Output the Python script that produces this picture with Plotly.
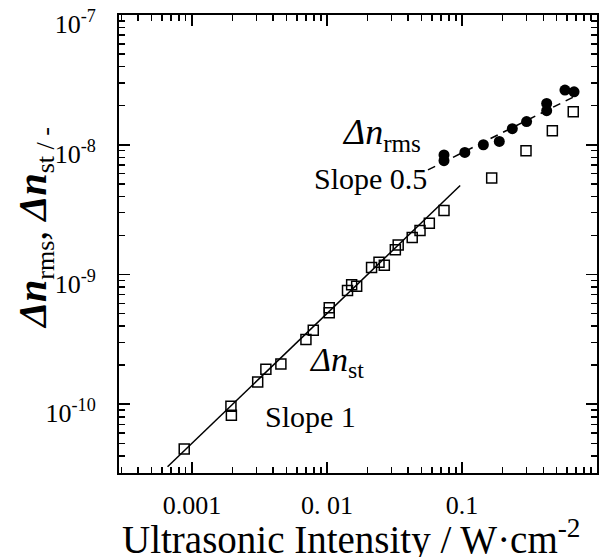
import math
import plotly.graph_objects as go

# ---- data ----
st_x = [8.77e-4, 1.945e-3, 1.96e-3, 3.07e-3, 3.53e-3, 4.56e-3, 6.99e-3, 7.92e-3,
        0.0104, 0.0104, 0.0142, 0.01524, 0.0166, 0.0214, 0.0243, 0.0266,
        0.0321, 0.0337, 0.0428, 0.0489, 0.0573, 0.0736, 0.166, 0.298, 0.467, 0.667]
st_y = [4.51e-11, 9.66e-11, 8.22e-11, 1.485e-10, 1.86e-10, 2.04e-10, 3.16e-10, 3.71e-10,
        5.07e-10, 5.55e-10, 7.53e-10, 8.34e-10, 8.13e-10, 1.13e-9, 1.245e-9, 1.18e-9,
        1.55e-9, 1.69e-9, 1.93e-9, 2.18e-9, 2.48e-9, 3.11e-9, 5.55e-9, 9.0e-9, 1.28e-8, 1.795e-8]

rms_x = [0.0736, 0.0736, 0.105, 0.144, 0.189, 0.236, 0.301, 0.424, 0.424, 0.579, 0.676]
rms_y = [8.34e-9, 7.53e-9, 8.73e-9, 1.0e-8, 1.06e-8, 1.33e-8, 1.51e-8, 2.08e-8, 1.83e-8, 2.64e-8, 2.56e-8]

slope1_x = [6.6e-4, 0.097]
slope1_y = [3.3e-11, 4.85e-9]
slope05_x = [0.056, 0.69]
slope05_y = [6.4e-9, 2.37e-8]

x_tickvals = [0.001, 0.01, 0.1, 1]
x_ticktext = ["0.001", "0. 01", "0.1", "1"]
y_tickvals = [1e-10, 1e-9, 1e-8, 1e-7]
y_ticktext = ["10<sup>-10</sup>", "10<sup>-9</sup>", "10<sup>-8</sup>", "10<sup>-7</sup>"]

minor_x = [m * 10.0 ** e for e in range(-4, 0) for m in range(2, 10)]
minor_y = [m * 10.0 ** e for e in range(-11, -7) for m in range(2, 10)]

FONT = "Liberation Serif"

fig = go.Figure()
fig.add_trace(go.Scatter(x=slope1_x, y=slope1_y, mode="lines",
                         line=dict(color="black", width=1.5), showlegend=False))
fig.add_trace(go.Scatter(x=slope05_x, y=slope05_y, mode="lines",
                         line=dict(color="black", width=1.5, dash="8px,6px"), showlegend=False))
fig.add_trace(go.Scatter(x=st_x, y=st_y, mode="markers",
                         marker=dict(symbol="square-open", size=10, color="black",
                                     line=dict(width=1.5, color="black")),
                         showlegend=False))
fig.add_trace(go.Scatter(x=rms_x, y=rms_y, mode="markers",
                         marker=dict(symbol="circle", size=11, color="black"),
                         showlegend=False))

W, H = 599, 557
L, R, T, B = 119, 2, 15, 84
pw, ph = W - L - R, H - T - B


def px(x):
    return (x - L) / pw


def py(y):
    return (H - B - y) / ph


annots = [
    dict(text="<i>Δn</i><sub>rms</sub>", x=px(381), y=py(134), size=36),
    dict(text="Slope 0.5", x=px(370), y=py(179), size=30),
    dict(text="<i>Δn</i><sub>st</sub>", x=px(336), y=py(362), size=34),
    dict(text="Slope 1", x=px(310), y=py(416), size=30),
    dict(text="Ultrasonic Intensity / W·cm<sup>-2</sup>", x=px(351), y=py(537), size=39),
]
for a in annots:
    fig.add_annotation(text=a["text"], x=a["x"], y=a["y"], xref="paper", yref="paper",
                       xanchor="center", yanchor="middle", showarrow=False,
                       font=dict(family=FONT, size=a["size"], color="black"))

fig.add_annotation(
    text="<b><i>Δn</i></b><sub><span style=\"font-size:26px\">rms</span></sub>, "
         "<b><i>Δn</i></b><sub><span style=\"font-size:26px\">st / -</span></sub>",
    x=px(35), y=py(228), xref="paper", yref="paper", textangle=-90,
    xanchor="center", yanchor="middle", showarrow=False,
    font=dict(family=FONT, size=40, color="black"))

axis_common = dict(
    type="log", showgrid=False, zeroline=False, automargin=False,
    showline=True, linecolor="black", linewidth=2, mirror="allticks",
    ticks="inside", ticklen=11, tickwidth=1.5, tickcolor="black",
    tickfont=dict(family=FONT, size=26, color="black"),
)

fig.update_xaxes(**axis_common, range=[-3.54, 0], tickmode="array",
                 tickvals=x_tickvals, ticktext=x_ticktext, ticklabelstandoff=8,
                 minor=dict(tickmode="array", tickvals=minor_x, ticks="inside",
                            ticklen=6, tickwidth=1.5, tickcolor="black"))
fig.update_yaxes(**axis_common, range=[-10.53, -7.0], tickmode="array",
                 tickvals=y_tickvals, ticktext=y_ticktext, ticklabelstandoff=16,
                 ticklabelshift=9,
                 minor=dict(tickmode="array", tickvals=minor_y, ticks="inside",
                            ticklen=6, tickwidth=1.5, tickcolor="black"))

fig.update_layout(width=W, height=H, margin=dict(l=L, r=R, t=T, b=B),
                  plot_bgcolor="white", paper_bgcolor="white",
                  font=dict(family=FONT, color="black"))

fig.write_html("out.html",
               config={"displayModeBar": False, "staticPlot": True},
               post_script="document.body.style.margin='0';"
                           "document.body.style.overflow='hidden';")
